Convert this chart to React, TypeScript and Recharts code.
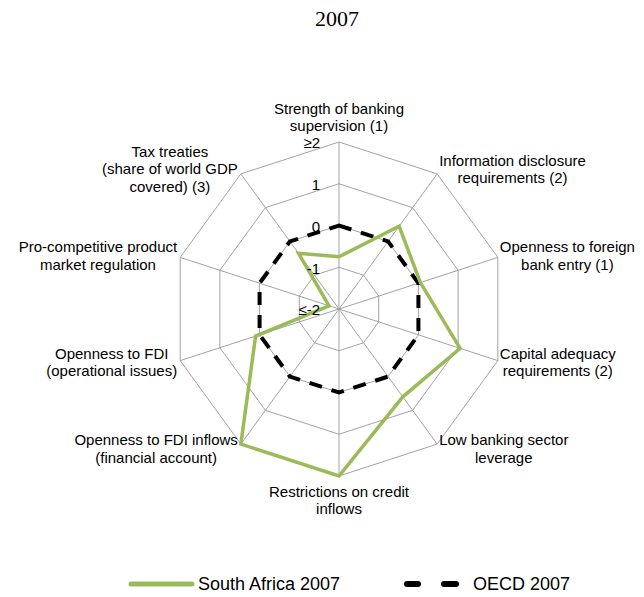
import { RadarChart, Radar, PolarGrid, PolarAngleAxis, PolarRadiusAxis, Legend } from 'recharts';

const CATEGORIES = [
  'Strength of banking\nsupervision (1)',
  'Information disclosure\nrequirements (2)',
  'Openness to foreign\nbank entry (1)',
  'Capital adequacy\nrequirements (2)',
  'Low banking sector\nleverage',
  'Restrictions on credit\ninflows',
  'Openness to FDI inflows\n(financial account)',
  'Openness to FDI\n(operational issues)',
  'Pro-competitive product\nmarket regulation',
  'Tax treaties\n(share of world GDP\ncovered) (3)',
];
const SOUTH_AFRICA = [-0.75, 0.45, 0.05, 1.05, 0.6, 2, 2, 0.1, -1.75, -0.35];
const OECD = [0, 0, 0, 0, 0, 0, 0, 0, 0, 0];
const RADIUS_TICKS = [-2, -1, 0, 1, 2];
const RADIUS_LABELS = ['≤-2', '-1', '0', '1', '≥2'];

const data = CATEGORIES.map((c, i) => ({ category: c, sa: SOUTH_AFRICA[i], oecd: OECD[i] }));

const W = 644;
const H = 597;
const CX = 339;
const CY = 309;
const R = 167;
const FONT = "'Liberation Sans', Arial, sans-serif";
const LABEL_SIZE = 15;
const LINE_H = 17.5;

let ctx: CanvasRenderingContext2D | null = null;
const measure = (s: string) => {
  if (!ctx) ctx = document.createElement('canvas').getContext('2d');
  if (!ctx) return s.length * 7.5;
  ctx.font = `${LABEL_SIZE}px ${FONT}`;
  return ctx.measureText(s).width;
};

// category label: centred block sitting just outside each spoke end
const renderAngleTick = (props: any) => {
  const { payload } = props;
  const lines: string[] = String(payload.value).split('\n');
  const rad = (payload.coordinate * Math.PI) / 180;
  const cosA = Math.cos(rad);
  const sinA = Math.sin(rad);
  const ex = CX + R * cosA;
  const ey = CY - R * sinA;
  let x = ex;
  let firstY: number;
  if (Math.abs(cosA) < 0.1) {
    firstY = sinA > 0 ? ey - 16 - (lines.length - 1) * LINE_H : ey + 15.5;
  } else {
    const w = Math.max(...lines.map(measure));
    x = cosA > 0 ? ex + 2 + w / 2 : ex - 3 - w / 2;
    const mid = ey - 6 * sinA;
    firstY = mid - ((lines.length - 1) * LINE_H) / 2;
  }
  return (
    <g>
      {lines.map((l, i) => (
        <text
          key={i}
          x={x}
          y={firstY + i * LINE_H}
          dy="0.35em"
          textAnchor="middle"
          fill="#000"
          fontSize={LABEL_SIZE}
          fontFamily={FONT}
        >
          {l}
        </text>
      ))}
    </g>
  );
};

const renderRadiusTick = (props: any) => {
  const { x, y, payload } = props;
  const idx = RADIUS_TICKS.indexOf(payload.value);
  return (
    <text x={x - 19} y={y + 1} dy="0.35em" textAnchor="end" fill="#000" fontSize={15} fontFamily={FONT}>
      {idx >= 0 ? RADIUS_LABELS[idx] : payload.value}
    </text>
  );
};

const renderLegend = (props: any) => {
  const items = props.payload || [];
  const sa = items.find((p: any) => p.dataKey === 'sa');
  const oe = items.find((p: any) => p.dataKey === 'oecd');
  return (
    <svg width={W} height={26} style={{ display: 'block' }}>
      <line x1={131} y1={14} x2={192} y2={14} stroke="#9BBB59" strokeWidth={5} strokeLinecap="round" />
      <text x={198} y={14} dy="0.35em" fontSize={18} fontFamily={FONT} fill="#000">{sa?.value}</text>
      <line x1={407} y1={14} x2={418} y2={14} stroke="#000" strokeWidth={6} strokeLinecap="round" />
      <line x1={444} y1={14} x2={456} y2={14} stroke="#000" strokeWidth={6} strokeLinecap="round" />
      <text x={473} y={14} dy="0.35em" fontSize={18} fontFamily={FONT} fill="#000">{oe?.value}</text>
    </svg>
  );
};

export default function App() {
  return (
    <div style={{ position: 'relative', width: W, height: H, background: '#fff', overflow: 'hidden' }}>
      <style>{'body{margin:0;overflow:hidden;}'}</style>
      <div
        style={{
          position: 'absolute',
          top: 6,
          left: 0,
          width: W,
          textAlign: 'center',
          paddingLeft: 30,
          boxSizing: 'border-box',
          fontFamily: "'Liberation Serif', 'Times New Roman', serif",
          fontSize: 22,
          color: '#000',
        }}
      >
        2007
      </div>
      <RadarChart
        width={W}
        height={H}
        data={data}
        cx={CX}
        cy={CY}
        outerRadius={R}
        margin={{ top: 0, right: 0, bottom: 0, left: 0 }}
      >
        <PolarGrid gridType="polygon" stroke="#a3a3a3" strokeWidth={1} />
        <PolarAngleAxis dataKey="category" tick={renderAngleTick} tickLine={false} axisLine={false} />
        <PolarRadiusAxis
          angle={90}
          domain={[-2, 2]}
          ticks={RADIUS_TICKS as any}
          tickCount={5}
          tick={renderRadiusTick}
          axisLine={false}
          tickLine={false}
        />
        <Radar
          name="OECD 2007"
          dataKey="oecd"
          stroke="#000"
          strokeWidth={4}
          strokeDasharray="13 10"
          fill="none"
          fillOpacity={0}
          dot={false}
          isAnimationActive={false}
          legendType="line"
        />
        <Radar
          name="South Africa 2007"
          dataKey="sa"
          stroke="#9BBB59"
          strokeWidth={3.5}
          fill="none"
          fillOpacity={0}
          dot={false}
          isAnimationActive={false}
          legendType="line"
        />
        <Legend
          content={renderLegend}
          wrapperStyle={{ position: 'absolute', top: 570, left: 0, width: W }}
        />
      </RadarChart>
    </div>
  );
}
